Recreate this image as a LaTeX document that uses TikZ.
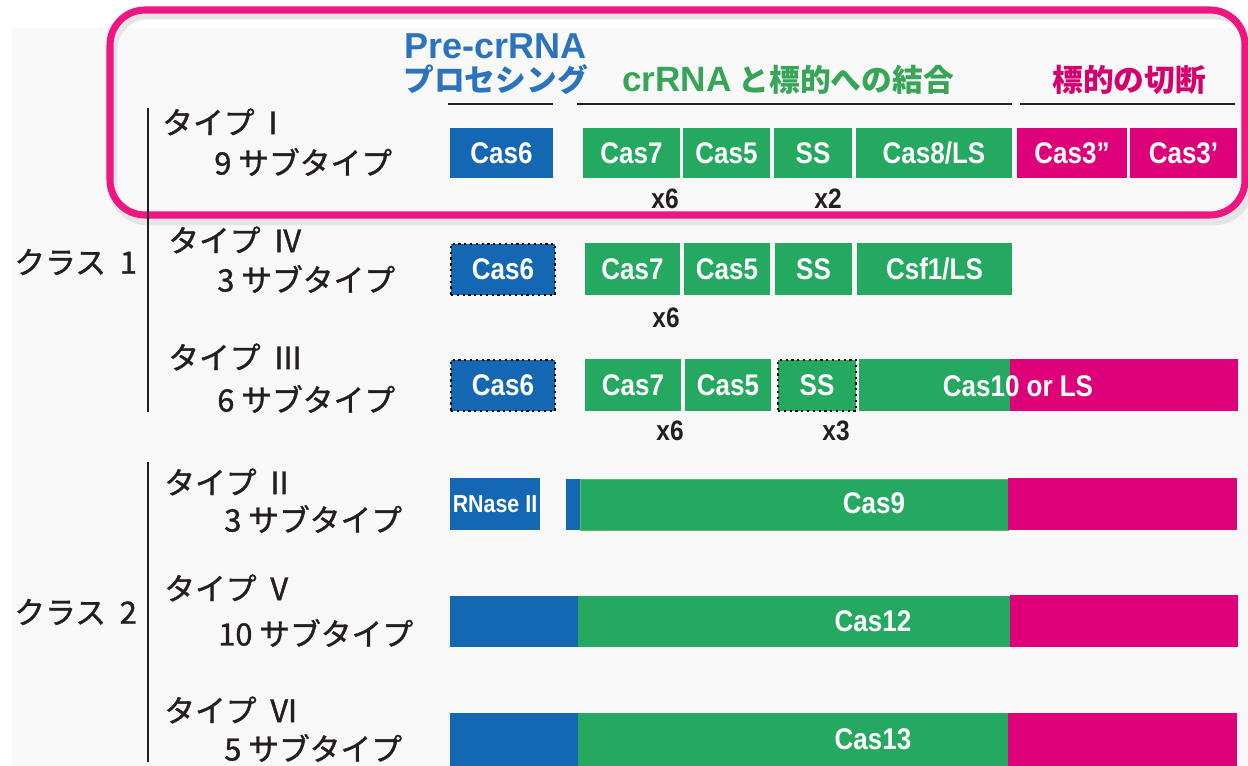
\documentclass[tikz,border=0pt]{standalone}
\usepackage{fontspec}
\setmainfont{Liberation Sans}
\newfontfamily\jp{Noto Sans CJK JP}
\newfontfamily\jpm[FakeBold=1.2]{Noto Sans CJK JP}
\definecolor{cblue}{HTML}{1468B3}
\definecolor{cgreen}{HTML}{25A860}
\definecolor{cmag}{HTML}{DE0079}
\definecolor{hblue}{HTML}{2B73BE}
\definecolor{hgreen}{HTML}{36A656}
\definecolor{hmag}{HTML}{D4006E}
\definecolor{framepink}{HTML}{EE1680}
\definecolor{bg}{HTML}{F8F8F8}
\definecolor{ink}{HTML}{231F20}
\newcommand\cn[1]{\scalebox{0.87}[1]{#1}}
\newcommand\wsp{\hspace{0.45em}}
\newcommand\seg[7][]{\node[segbox,fill=#6,#1,minimum width={(#4-#2)*0.02cm},minimum height={(#5-#3)*0.02cm}] (b#2-#3) at (#2,#3) {\cn{#7}};}
\tikzset{
  segbox/.style={draw=none,inner sep=0pt,outer sep=0pt,anchor=north west,text=white,font=\fontsize{17}{17}\selectfont\bfseries},
  segtext/.style={inner sep=0pt,text=white,font=\fontsize{17}{17}\selectfont\bfseries},
  lab/.style={anchor=west,inner sep=0pt,text=ink,font=\jpm\fontsize{17.5}{18}\selectfont},
  mult/.style={inner sep=0pt,text=ink,font=\fontsize{16}{16}\selectfont\bfseries},
  hdr/.style={anchor=west,inner sep=0pt,font=\fontsize{20.5}{20}\selectfont\bfseries},
  hjp/.style={anchor=west,inner sep=0pt,font=\jp\fontsize{17.5}{18}\selectfont\bfseries},
  rule/.style={draw=ink,line width=1.4pt},
  classline/.style={draw=ink,line width=1.1pt},
  dottedbox/.style={draw=black,dotted,line width=1.3pt}
}
\begin{document}
\begin{tikzpicture}[x=0.02cm,y=-0.02cm]
\useasboundingbox (0,0) rectangle (1248,766);
\fill[white] (0,0) rectangle (1248,766);
\fill[bg] (12,28) rectangle (1248,766);
% frame shadow and frame
\draw[black!10,line width=5pt,rounded corners=0.7cm] (113,15) rectangle (1249,221);
\draw[framepink,line width=4pt,rounded corners=0.7cm] (110,10) rectangle (1245,215);
% headers
\node[hdr,text=hblue] (pre1) at (404,46) {Pre-crRNA};
\node[hjp,text=hblue] (pre2) at (403,80) {プロセシング};
\node[hjp,text=hgreen] (bind) at (622,80) {{\fontspec{Liberation Sans}\fontsize{20}{20}\selectfont\bfseries crRNA} と標的への結合};
\node[hjp,text=hmag] (cut) at (1052,80) {標的の切断};
\coordinate (l1a) at (448,104); \coordinate (l1b) at (553,104);
\coordinate (l2a) at (577,104); \coordinate (l2b) at (1012,104);
\coordinate (l3a) at (1020,104); \coordinate (l3b) at (1235,104);
\draw[rule] (l1a) -- (l1b);
\draw[rule] (l2a) -- (l2b);
\draw[rule] (l3a) -- (l3b);
% class lines
\coordinate (c1a) at (148,108); \coordinate (c1b) at (148,412);
\coordinate (c2a) at (148,462); \coordinate (c2b) at (148,762);
\draw[classline] (c1a) -- (c1b);
\draw[classline] (c2a) -- (c2b);
% left labels
\node[lab] (k1) at (14,262) {クラス\wsp 1};
\node[lab] (k2) at (14,612) {クラス\wsp 2};
\node[lab] (t1) at (162,122) {タイプ\wsp I};
\node[lab] (s1) at (214,162) {9 サブタイプ};
\node[lab] (t4) at (168,240) {タイプ\wsp IV};
\node[lab] (s4) at (217,279) {3 サブタイプ};
\node[lab] (t3) at (168,357) {タイプ\wsp III};
\node[lab] (s3) at (217,399) {6 サブタイプ};
\node[lab] (t2) at (164,482) {タイプ\wsp II};
\node[lab] (s2) at (224,519) {3 サブタイプ};
\node[lab] (t5) at (164,588) {タイプ\wsp V};
\node[lab] (s5) at (218,633) {10 サブタイプ};
\node[lab] (t6) at (164,710) {タイプ\wsp VI};
\node[lab] (s6) at (224,748) {5 サブタイプ};
% row 1 (type I)
\seg{450}{128}{553}{178}{cblue}{Cas6}
\seg{583}{128}{680}{178}{cgreen}{Cas7}
\seg{683}{128}{770}{178}{cgreen}{Cas5}
\seg{774}{128}{852}{178}{cgreen}{SS}
\seg{856}{128}{1012}{178}{cgreen}{Cas8/LS}
\seg{1017}{128}{1127}{178}{cmag}{Cas3''}
\seg{1130}{128}{1237}{178}{cmag}{Cas3'}
\node[mult] (m1) at (665,199) {\cn{x6}};
\node[mult] (m2) at (828,199) {\cn{x2}};
% row 2 (type IV)
\seg[dottedbox]{451}{244}{555}{295}{cblue}{Cas6}
\seg{585}{243}{680}{295}{cgreen}{Cas7}
\seg{684}{243}{770}{295}{cgreen}{Cas5}
\seg{775}{243}{852}{295}{cgreen}{SS}
\seg{857}{243}{1012}{295}{cgreen}{Csf1/LS}
\node[mult] (m3) at (666,318) {\cn{x6}};
% row 3 (type III)
\seg[dottedbox]{451}{360}{555}{411}{cblue}{Cas6}
\seg{585}{359}{681}{411}{cgreen}{Cas7}
\seg{685}{359}{771}{411}{cgreen}{Cas5}
\seg[dottedbox]{778}{360}{856}{411}{cgreen}{SS}
\seg{859}{359}{1011}{411}{cgreen}{}
\seg{1010}{359}{1238}{411}{cmag}{}
\node[segtext] (c10t) at (1018,386) {\cn{Cas10 or LS}};
\node[mult] (m4) at (670,431) {\cn{x6}};
\node[mult] (m5) at (836,431) {\cn{x3}};
% row 4 (type II)
\seg{450}{478}{540}{530}{cblue}{\fontsize{14}{14}\selectfont RNase II}
\seg{566}{479}{581}{530}{cblue}{}
\seg[draw=green!50!black!60]{580}{479}{1008}{530}{cgreen}{}
\seg{1008}{478}{1237}{530}{cmag}{}
\node[segtext] (cas9) at (874,503) {\cn{Cas9}};
% row 5 (type V)
\seg{450}{596}{578}{647}{cblue}{}
\seg{578}{596}{1010}{647}{cgreen}{}
\seg{1010}{595}{1238}{647}{cmag}{}
\node[segtext] (cas12) at (873,621) {\cn{Cas12}};
% row 6 (type VI)
\seg{450}{713}{578}{766}{cblue}{}
\seg{578}{713}{1008}{766}{cgreen}{}
\seg{1008}{713}{1237}{766}{cmag}{}
\node[segtext] (cas13) at (873,739) {\cn{Cas13}};
\end{tikzpicture}
\end{document}
